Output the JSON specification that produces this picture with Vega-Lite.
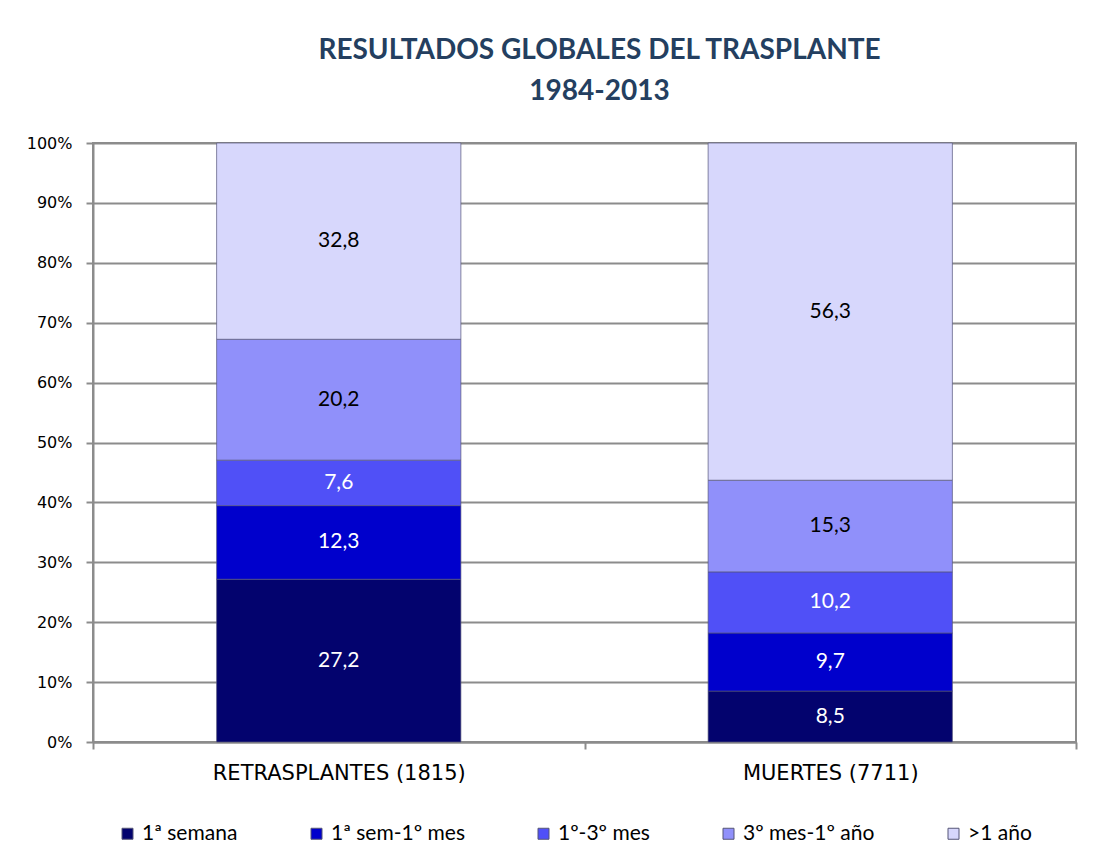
{
  "$schema": "https://vega.github.io/schema/vega-lite/v6.json",
  "width": 983,
  "height": 599,
  "autosize": {"type": "none"},
  "padding": {"left": 93, "top": 143, "right": 23, "bottom": 126},
  "background": "white",
  "config": {
    "locale": {"number": {"decimal": ",", "thousands": ".", "grouping": [3], "currency": ["", " €"]}},
    "view": {"stroke": "#8c8c8c", "strokeWidth": 2},
    "axis": {"domainColor": "#8c8c8c", "domainWidth": 2, "tickColor": "#8c8c8c", "tickWidth": 2, "tickSize": 7, "gridColor": "#8c8c8c", "gridWidth": 2, "labelColor": "black", "labelFont": "DejaVu Sans", "labelLimit": 500}
  },
  "title": {
    "text": ["RESULTADOS GLOBALES DEL TRASPLANTE", "1984-2013"],
    "font": "Lato",
    "fontSize": 28,
    "fontWeight": "bold",
    "color": "#243f60",
    "lineHeight": 41,
    "offset": 29,
    "anchor": "middle",
    "dx": 15
  },
  "data": {
    "values": [
      {"grupo": "RETRASPLANTES (1815)", "periodo": "1ª semana", "orden": 1, "valor": 27.2},
      {"grupo": "RETRASPLANTES (1815)", "periodo": "1ª sem-1º mes", "orden": 2, "valor": 12.3},
      {"grupo": "RETRASPLANTES (1815)", "periodo": "1º-3º mes", "orden": 3, "valor": 7.6},
      {"grupo": "RETRASPLANTES (1815)", "periodo": "3º mes-1º año", "orden": 4, "valor": 20.2},
      {"grupo": "RETRASPLANTES (1815)", "periodo": ">1 año", "orden": 5, "valor": 32.8},
      {"grupo": "MUERTES (7711)", "periodo": "1ª semana", "orden": 1, "valor": 8.5},
      {"grupo": "MUERTES (7711)", "periodo": "1ª sem-1º mes", "orden": 2, "valor": 9.7},
      {"grupo": "MUERTES (7711)", "periodo": "1º-3º mes", "orden": 3, "valor": 10.2},
      {"grupo": "MUERTES (7711)", "periodo": "3º mes-1º año", "orden": 4, "valor": 15.3},
      {"grupo": "MUERTES (7711)", "periodo": ">1 año", "orden": 5, "valor": 56.3}
    ]
  },
  "encoding": {
    "x": {
      "field": "grupo",
      "type": "nominal",
      "sort": ["RETRASPLANTES (1815)", "MUERTES (7711)"],
      "scale": {"paddingInner": 0, "paddingOuter": 0},
      "axis": {"title": null, "labelAngle": 0, "labelFontSize": 21, "labelPadding": 13, "tickBand": "extent", "grid": false}
    }
  },
  "layer": [
    {
      "mark": {"type": "bar", "width": {"band": 0.497}, "stroke": "#55557a", "strokeWidth": 1, "strokeOpacity": 0.7},
      "encoding": {
        "y": {
          "field": "valor",
          "type": "quantitative",
          "stack": "normalize",
          "scale": {"domain": [0, 1]},
          "axis": {"title": null, "format": ".0%", "values": [0, 0.1, 0.2, 0.3, 0.4, 0.5, 0.6, 0.7, 0.8, 0.9, 1], "labelFontSize": 16, "labelPadding": 14, "grid": true}
        },
        "order": {"field": "orden", "type": "quantitative", "sort": "ascending"},
        "color": {
          "field": "periodo",
          "type": "nominal",
          "scale": {
            "domain": ["1ª semana", "1ª sem-1º mes", "1º-3º mes", "3º mes-1º año", ">1 año"],
            "range": ["#03036e", "#0000cc", "#5050f7", "#9090fa", "#d7d7fc"]
          },
          "legend": {
            "title": null,
            "orient": "none",
            "legendX": 24,
            "legendY": 680,
            "direction": "horizontal",
            "symbolType": "square",
            "symbolSize": 121,
            "symbolStrokeColor": "#555577",
            "symbolStrokeWidth": 1,
            "symbolOpacity": 1,
            "labelFont": "Lato",
            "labelFontSize": 21,
            "labelColor": "black",
            "labelOffset": 4,
            "columnPadding": 68
          }
        }
      }
    },
    {
      "mark": {"type": "text", "font": "Lato", "fontSize": 21, "baseline": "middle"},
      "encoding": {
        "y": {"field": "valor", "type": "quantitative", "stack": "normalize", "bandPosition": 0.5},
        "order": {"field": "orden", "type": "quantitative", "sort": "ascending"},
        "text": {"field": "valor", "type": "quantitative", "format": ".1f"},
        "color": {"condition": {"test": "datum.orden >= 4", "value": "black"}, "value": "white"}
      }
    }
  ]
}
